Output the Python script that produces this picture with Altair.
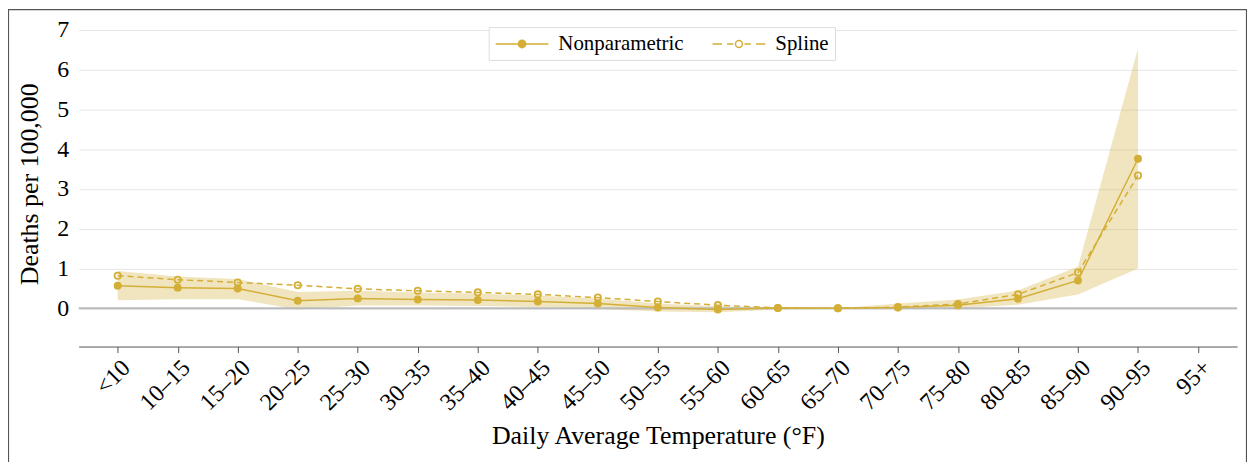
import altair as alt
import pandas as pd

categories = ["<10", "10–15", "15–20", "20–25", "25–30", "30–35", "35–40", "40–45",
              "45–50", "50–55", "55–60", "60–65", "65–70", "70–75", "75–80", "80–85",
              "85–90", "90–95", "95+"]
nonparametric = [0.57, 0.52, 0.50, 0.19, 0.25, 0.22, 0.21, 0.17, 0.12, 0.02, -0.03,
                 0.01, 0.0, 0.02, 0.08, 0.24, 0.70, 3.76, None]
spline = [0.82, 0.72, 0.65, 0.58, 0.49, 0.44, 0.40, 0.35, 0.27, 0.17, 0.08,
          0.01, 0.0, 0.03, 0.11, 0.35, 0.90, 3.34, None]
ci_low = [0.20, 0.23, 0.23, -0.03, 0.07, 0.07, 0.06, 0.03, -0.02, -0.08, -0.10,
          -0.03, 0.0, -0.02, 0.0, 0.09, 0.35, 1.00, None]
ci_high = [0.94, 0.80, 0.74, 0.41, 0.44, 0.40, 0.37, 0.32, 0.25, 0.12, 0.05,
           0.03, 0.0, 0.12, 0.22, 0.45, 1.05, 6.53, None]
series_names = ["Nonparametric", "Spline"]
y_ticks = [0, 1, 2, 3, 4, 5, 6, 7]

GOLD = "#D4AF37"
FONT = "Liberation Serif"
W, H = 1164, 327

wide = pd.DataFrame({"cat": categories, "lo": ci_low, "hi": ci_high})
long = pd.DataFrame({
    "cat": categories * 2,
    "value": nonparametric + spline,
    "series": [series_names[0]] * len(categories) + [series_names[1]] * len(categories),
})

x_enc = alt.X("cat:N", sort=categories,
              scale=alt.Scale(domain=categories, type="point", padding=0.65),
              axis=alt.Axis(title="Daily Average Temperature (°F)", labelAngle=-45,
                            labelFontSize=24, titleFontSize=26, labelPadding=3,
                            titlePadding=8, tickSize=6, tickColor="#555555",
                            domainColor="#555555", gridColor="#e6e6e6",
                            labelColor="#000000", titleColor="#000000",
                            titleFontWeight="normal"))
y_scale = alt.Scale(domain=[-0.96, 7.22], nice=False, zero=False)
y_axis = alt.Axis(title="Deaths per 100,000", values=y_ticks, ticks=False, domain=False,
                  labelFontSize=24, titleFontSize=26, labelPadding=10, titlePadding=14,
                  gridColor="#e6e6e6", labelColor="#000000", titleColor="#000000",
                  titleFontWeight="normal")

frame = alt.Chart(pd.DataFrame({"k": [0]})).mark_rect(
    filled=False, stroke="#555555", strokeWidth=1.2
).encode(x=alt.value(-70.5), x2=alt.value(W + 9.5), y=alt.value(-11.5), y2=alt.value(H + 140))

band = alt.Chart(wide).mark_area(color=GOLD, opacity=0.32).encode(
    x=x_enc,
    y=alt.Y("lo:Q", scale=y_scale, axis=y_axis),
    y2="hi:Q",
)

zero = alt.Chart(pd.DataFrame({"z": [0]})).mark_rule(color="#bbbbbb", strokeWidth=2).encode(
    y=alt.Y("z:Q", scale=y_scale)
)

line_np = alt.Chart(long).transform_filter(
    alt.datum.series == series_names[0]
).mark_line(color=GOLD, strokeWidth=1.5).encode(x=x_enc, y=alt.Y("value:Q", scale=y_scale))

line_sp = alt.Chart(long).transform_filter(
    alt.datum.series == series_names[1]
).mark_line(color=GOLD, strokeWidth=1.5, strokeDash=[6, 4]).encode(
    x=x_enc, y=alt.Y("value:Q", scale=y_scale))

pts_np = alt.Chart(long).transform_filter(
    alt.datum.series == series_names[0]
).mark_point(filled=True, color=GOLD, size=64, opacity=1, shape="circle").encode(
    x=x_enc, y=alt.Y("value:Q", scale=y_scale))

pts_sp = alt.Chart(long).transform_filter(
    alt.datum.series == series_names[1]
).mark_point(filled=False, color=GOLD, size=40, strokeWidth=1.8, opacity=1, shape="circle").encode(
    x=x_enc, y=alt.Y("value:Q", scale=y_scale))

# legend glyphs: unit = 10px (symbol size 400), line spans 53px, circle in the middle
NP_PATH = "M-1,0H4.3M2.02,0A0.37,0.37 0 1,1 1.28,0A0.37,0.37 0 1,1 2.02,0Z"
SP_PATH = ("M-1,0H-0.05M0.45,0H1.1M2.2,0H2.85M3.35,0H4.3"
           "M2.0,0A0.35,0.35 0 1,1 1.3,0A0.35,0.35 0 1,1 2.0,0Z")

legend = alt.Legend(title=None, orient="none", legendX=412, legendY=6, direction="horizontal",
                    fillColor="#ffffff", strokeColor="#dddddd", padding=6,
                    labelFont=FONT, labelFontSize=21, labelColor="#000000",
                    symbolSize=400, symbolStrokeWidth=1.5, symbolOpacity=1,
                    labelOffset=42, columnPadding=26, labelLimit=300)

legend_layer = alt.Chart(long).transform_filter("false").mark_point(
    filled=True, opacity=1, strokeWidth=1.5
).encode(
    x=x_enc, y=alt.Y("value:Q", scale=y_scale),
    shape=alt.Shape("series:N", scale=alt.Scale(domain=series_names, range=[NP_PATH, SP_PATH]),
                    legend=legend),
    fill=alt.Fill("series:N", scale=alt.Scale(domain=series_names, range=[GOLD, "#ffffff"]),
                  legend=legend),
    stroke=alt.Stroke("series:N", scale=alt.Scale(domain=series_names, range=[GOLD, GOLD]),
                      legend=legend),
)

chart = alt.layer(frame, band, zero, line_np, line_sp, pts_np, pts_sp, legend_layer).properties(
    width=W, height=H,
    autosize=alt.AutoSizeParams(type="none"),
    padding={"left": 71, "top": 12, "right": 10, "bottom": 140},
).configure(font=FONT).configure_view(stroke=None)

chart.save("out.html", embed_options={"renderer": "svg", "actions": False})
